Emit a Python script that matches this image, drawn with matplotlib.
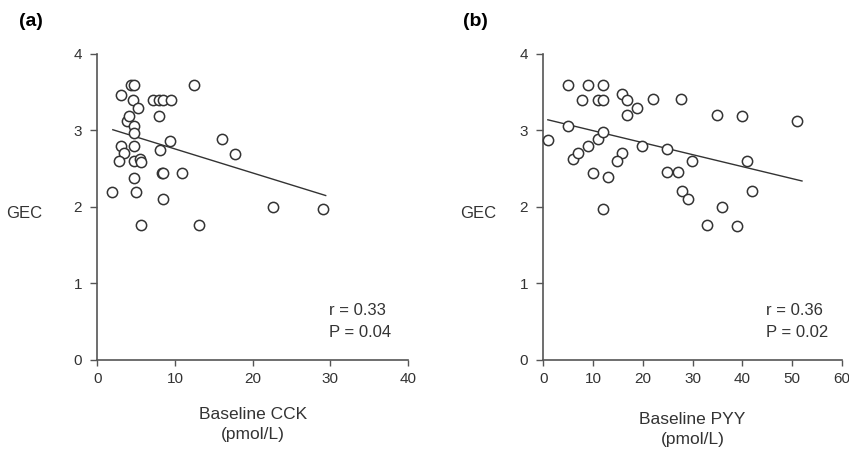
import matplotlib
matplotlib.use("Agg")
import matplotlib.pyplot as plt

plt.rcParams["font.family"] = ["Liberation Sans", "DejaVu Sans"]

# panel (a): baseline CCK vs GEC
cck_x = [1.9, 3.1, 4.3, 4.7, 4.6, 5.3, 3.8, 4.1, 4.7, 4.7, 3.1, 3.4, 4.7, 2.8,
         4.7, 5.5, 5.6, 4.7, 5.0, 5.6, 7.2, 7.9, 8.5, 9.5, 7.9, 9.3, 8.1, 8.3,
         8.5, 8.4, 10.9, 12.4, 13.1, 16.1, 17.7, 22.6, 29.0]
cck_y = [2.20, 3.47, 3.59, 3.60, 3.40, 3.29, 3.13, 3.19, 3.06, 2.97, 2.80, 2.71,
         2.80, 2.60, 2.60, 2.63, 2.59, 2.38, 2.20, 1.76, 3.40, 3.40, 3.40, 3.40,
         3.19, 2.86, 2.75, 2.45, 2.45, 2.11, 2.45, 3.60, 1.77, 2.89, 2.69, 2.00, 1.97]
cck_fit_x = [2.0, 29.4]
cck_fit_y = [3.01, 2.15]

# panel (b): baseline PYY vs GEC
pyy_x = [1.0, 4.9, 4.9, 5.9, 6.9, 7.85, 8.9, 8.9, 9.9, 10.9, 11.9, 11.9, 10.9,
         11.9, 11.9, 13.0, 15.9, 16.9, 16.9, 18.9, 15.9, 14.9, 19.9, 22.0, 24.8,
         24.8, 27.0, 27.8, 27.7, 34.9, 39.9, 51.0, 29.9, 40.9, 29.0, 41.9, 35.9,
         32.9, 38.9]
pyy_y = [2.87, 3.60, 3.06, 2.63, 2.71, 3.40, 3.60, 2.80, 2.45, 3.40, 3.40, 3.60,
         2.89, 2.98, 1.97, 2.39, 3.48, 3.40, 3.20, 3.30, 2.70, 2.60, 2.80, 3.41,
         2.76, 2.46, 2.46, 2.21, 3.41, 3.20, 3.19, 3.12, 2.60, 2.60, 2.11, 2.21,
         2.00, 1.77, 1.75]
pyy_fit_x = [0.9, 52.0]
pyy_fit_y = [3.14, 2.34]

panels = [
    dict(tag="(a)", x=cck_x, y=cck_y, fx=cck_fit_x, fy=cck_fit_y, xmax=40,
         xticks=[0, 10, 20, 30, 40], xlabel="Baseline CCK\n(pmol/L)",
         stats="r = 0.33\nP = 0.04", stat_x=29.8, gec_x=-0.235,
         rect=[0.1146, 0.2053, 0.366, 0.6755], label_y=-0.155),
    dict(tag="(b)", x=pyy_x, y=pyy_y, fx=pyy_fit_x, fy=pyy_fit_y, xmax=60,
         xticks=[0, 10, 20, 30, 40, 50, 60], xlabel="Baseline PYY\n(pmol/L)",
         stats="r = 0.36\nP = 0.02", stat_x=44.7, gec_x=-0.22,
         rect=[0.640, 0.2053, 0.3515, 0.6755], label_y=-0.17),
]

fig = plt.figure(figsize=(8.49, 4.53), dpi=100)
dark = "#333333"
axis_col = "#555555"

for p in panels:
    ax = fig.add_axes(p["rect"])
    ax.plot(p["fx"], p["fy"], color=dark, lw=1.0, zorder=2)
    ax.plot(p["x"], p["y"], ls="none", marker="o", ms=7.4, mfc="white",
            mec=dark, mew=1.1, zorder=3, clip_on=False)
    ax.set_xlim(0, p["xmax"])
    ax.set_ylim(0, 4)
    ax.set_xticks(p["xticks"])
    ax.set_yticks([0, 1, 2, 3, 4])
    for s in ["top", "right"]:
        ax.spines[s].set_visible(False)
    for s in ["left", "bottom"]:
        ax.spines[s].set_color(axis_col)
        ax.spines[s].set_linewidth(1.2)
    ax.tick_params(axis="y", direction="out", length=5, width=1.0, color=axis_col,
                   labelsize=11, labelcolor=dark, pad=6)
    ax.tick_params(axis="x", direction="out", length=4, width=1.0, color=axis_col,
                   labelsize=11, labelcolor=dark, pad=5)
    ax.text(p["stat_x"], 0.26, p["stats"], fontsize=12, color=dark,
            ha="left", va="bottom", linespacing=1.6)
    ax.text(0.5, p["label_y"], p["xlabel"], transform=ax.transAxes, fontsize=12.5,
            color=dark, ha="center", va="top", linespacing=1.4)
    ax.text(p["gec_x"], 0.48, "GEC", transform=ax.transAxes, fontsize=12,
            color=dark, ha="center", va="center")

fig.text(0.022, 0.952, "(a)", fontsize=14, fontweight="bold", va="center")
fig.text(0.545, 0.952, "(b)", fontsize=14, fontweight="bold", va="center")

fig.savefig("out.png", dpi=100, facecolor="white")
